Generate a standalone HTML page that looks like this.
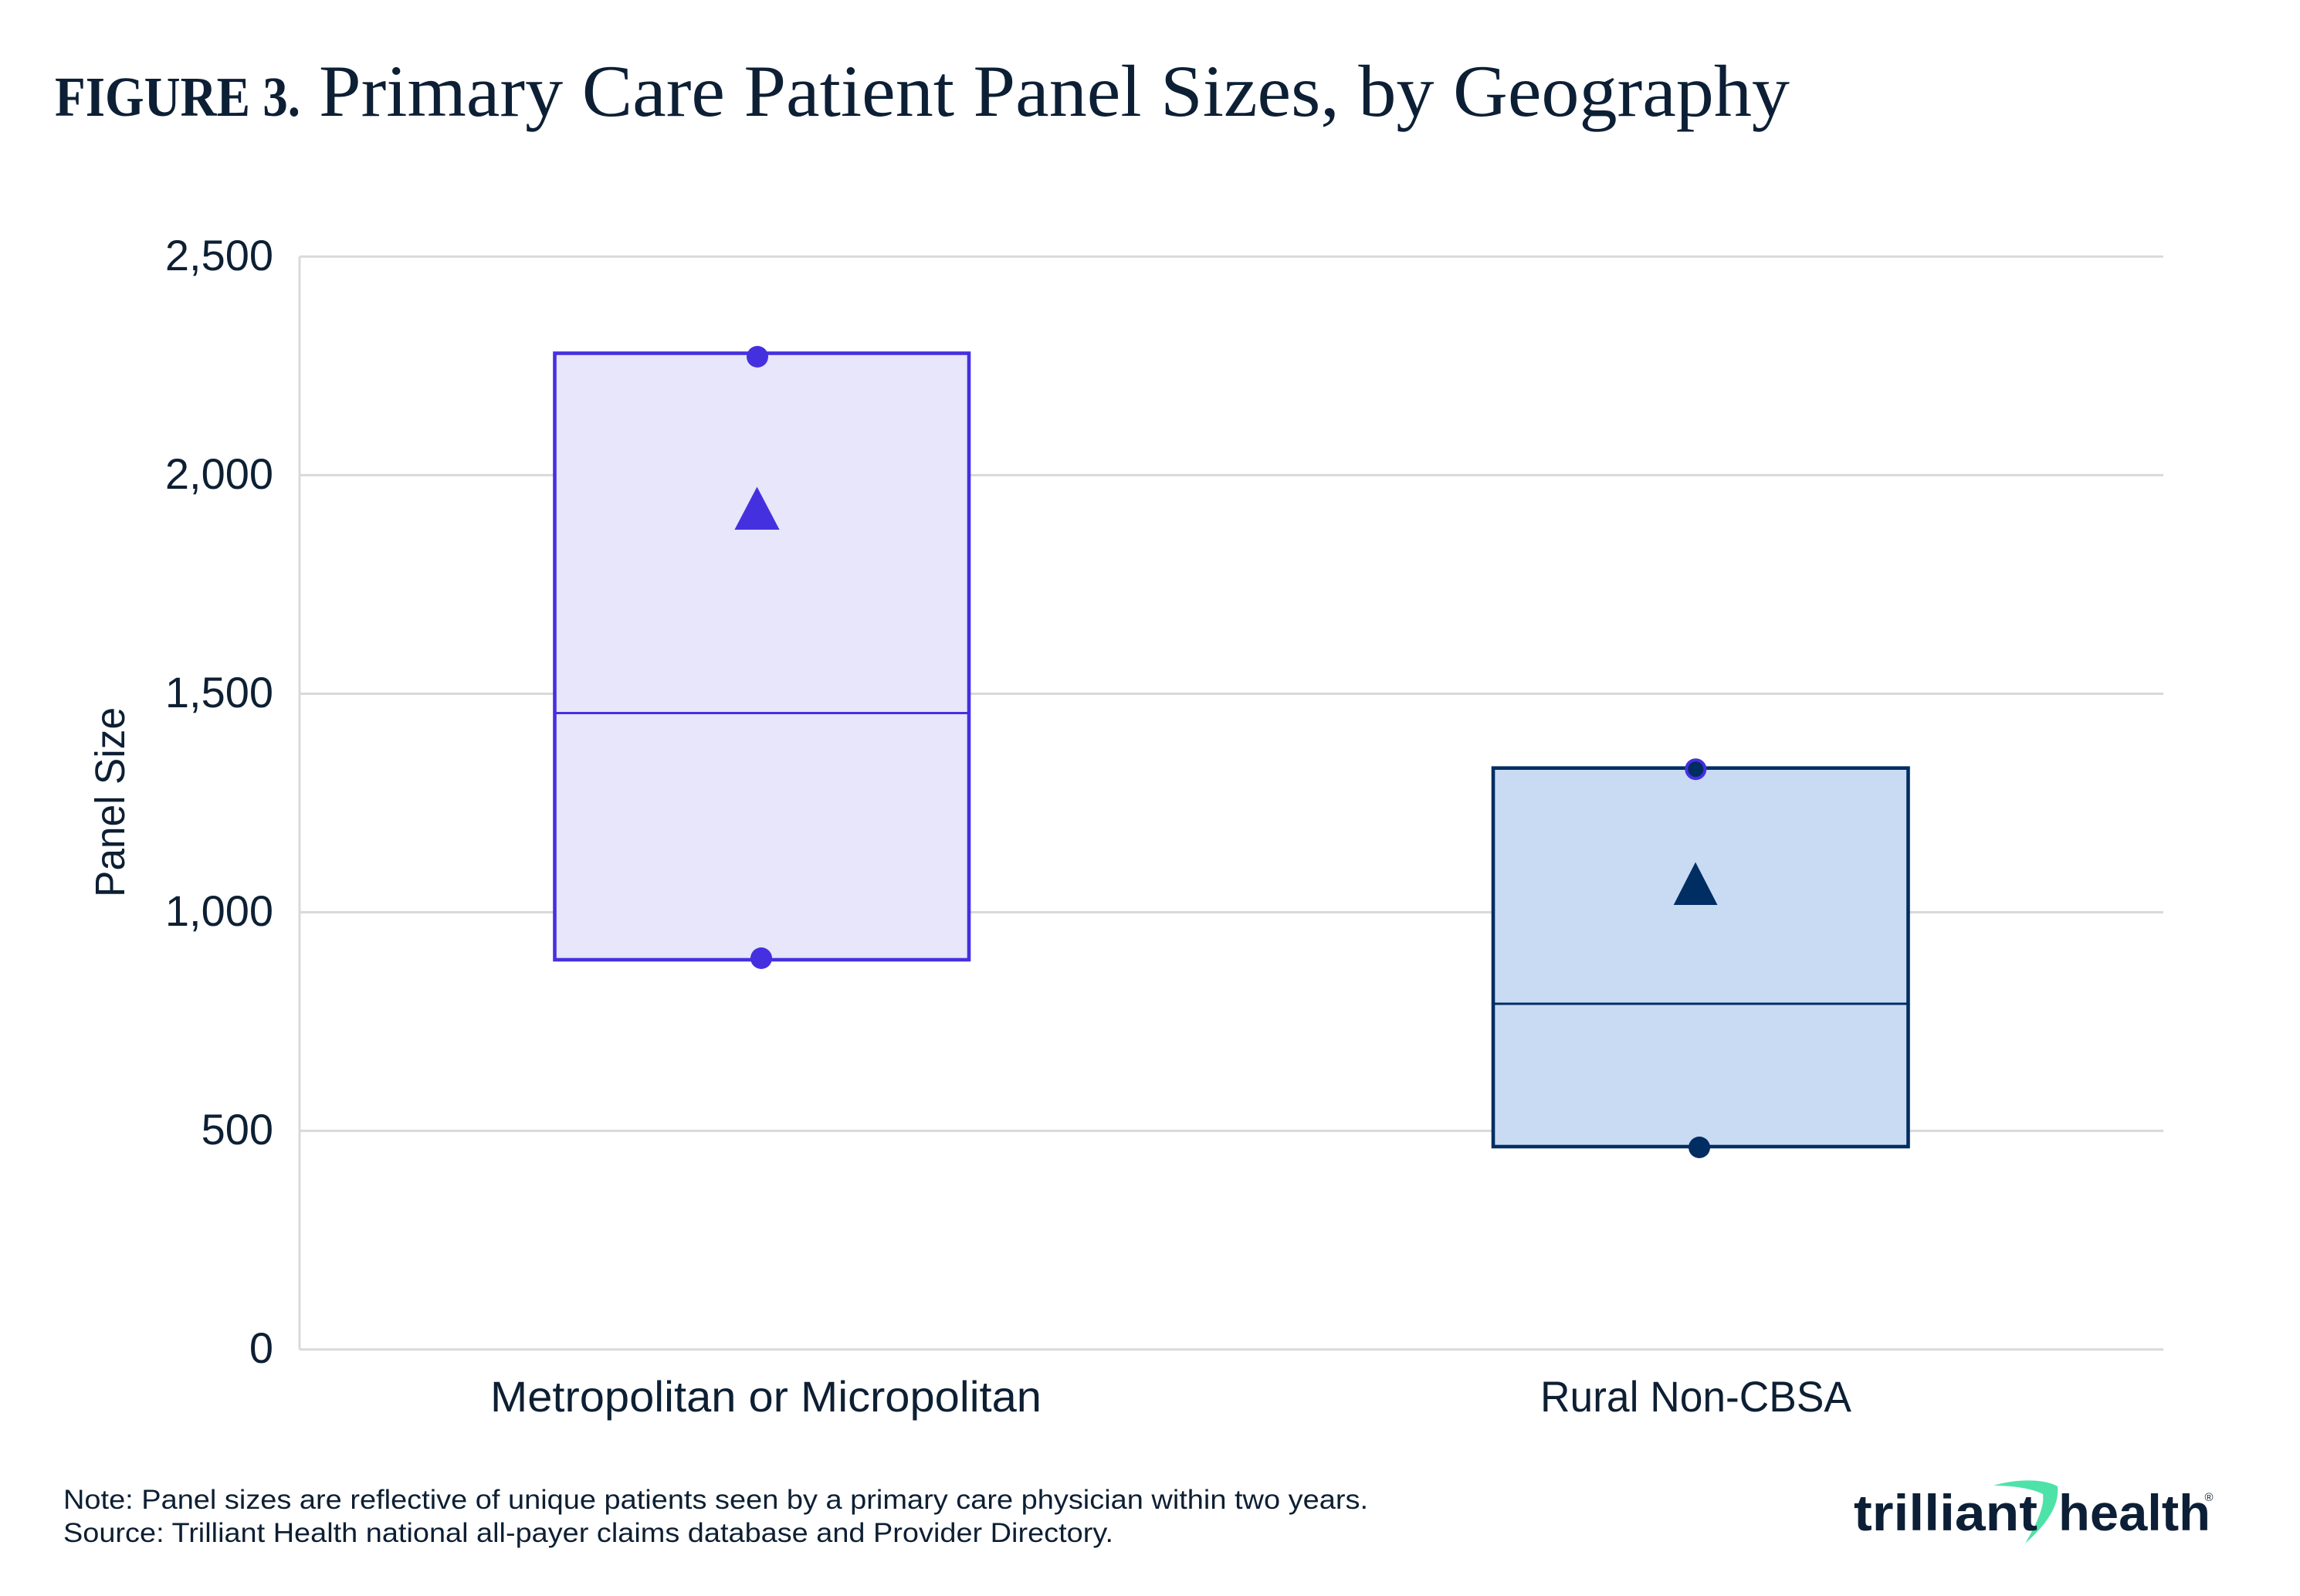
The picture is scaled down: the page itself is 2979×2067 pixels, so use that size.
<!DOCTYPE html>
<html>
<head>
<meta charset="utf-8">
<style>
  html, body { margin: 0; padding: 0; background: #ffffff; }
  svg { display: block; }
</style>
</head>
<body>
<svg width="2979" height="2067" viewBox="0 0 2979 2067" xmlns="http://www.w3.org/2000/svg">
  <rect x="0" y="0" width="2979" height="2067" fill="#ffffff"/>

  <!-- Title -->
  <text x="71" y="150" font-family="Liberation Serif, serif" font-weight="bold" font-size="73" fill="#0c1f35" textLength="318" lengthAdjust="spacingAndGlyphs">FIGURE 3.</text>
  <text x="413" y="150" font-family="Liberation Serif, serif" font-size="95" fill="#0c1f35" textLength="1905" lengthAdjust="spacingAndGlyphs">Primary Care Patient Panel Sizes, by Geography</text>

  <!-- Gridlines -->
  <g stroke="#d9d9d9" stroke-width="3" fill="none">
    <line x1="388" y1="332.3" x2="2802" y2="332.3"/>
    <line x1="388" y1="615.4" x2="2802" y2="615.4"/>
    <line x1="388" y1="898.5" x2="2802" y2="898.5"/>
    <line x1="388" y1="1181.5" x2="2802" y2="1181.5"/>
    <line x1="388" y1="1464.6" x2="2802" y2="1464.6"/>
    <line x1="388" y1="1747.7" x2="2802" y2="1747.7"/>
    <line x1="388" y1="332.3" x2="388" y2="1747.7"/>
  </g>

  <!-- Y tick labels -->
  <g font-family="Liberation Sans, sans-serif" font-size="56" fill="#0d1f33" text-anchor="end">
    <text x="354" y="350">2,500</text>
    <text x="354" y="633">2,000</text>
    <text x="354" y="916">1,500</text>
    <text x="354" y="1199">1,000</text>
    <text x="354" y="1482">500</text>
    <text x="354" y="1765">0</text>
  </g>

  <!-- Y axis label -->
  <text transform="translate(161,1039) rotate(-90)" text-anchor="middle" font-family="Liberation Sans, sans-serif" font-size="54" fill="#0d1f33" textLength="246" lengthAdjust="spacingAndGlyphs">Panel Size</text>

  <!-- Box 1: Metropolitan or Micropolitan -->
  <rect x="718.5" y="457.5" width="536.5" height="785.5" fill="#e7e6fa" stroke="#4530e0" stroke-width="4.6"/>
  <line x1="720.5" y1="923.5" x2="1253" y2="923.5" stroke="#4530e0" stroke-width="3"/>
  <circle cx="981" cy="462" r="14" fill="#4530e0"/>
  <circle cx="986" cy="1241" r="14" fill="#4530e0"/>
  <polygon points="980.5,630.5 1009.6,686 951.4,686" fill="#4530e0"/>

  <!-- Box 2: Rural Non-CBSA -->
  <rect x="1934" y="994.7" width="537.5" height="490.3" fill="#c9daf3" stroke="#002d62" stroke-width="4.6"/>
  <line x1="1936" y1="1300" x2="2469.5" y2="1300" stroke="#002d62" stroke-width="3"/>
  <circle cx="2196.3" cy="996.2" r="12" fill="#002d62" stroke="#4530e0" stroke-width="4"/>
  <circle cx="2201" cy="1486" r="14" fill="#002d62"/>
  <polygon points="2196,1116.6 2224.5,1172 2167.7,1172" fill="#002d62"/>

  <!-- X labels -->
  <g font-family="Liberation Sans, sans-serif" font-size="56" fill="#0d1f33">
    <text x="635" y="1828" textLength="714" lengthAdjust="spacingAndGlyphs">Metropolitan or Micropolitan</text>
    <text x="1995" y="1828" textLength="403" lengthAdjust="spacingAndGlyphs">Rural Non-CBSA</text>
  </g>

  <!-- Notes -->
  <g font-family="Liberation Sans, sans-serif" font-size="35" fill="#0d1f33">
    <text x="82" y="1954" textLength="1690" lengthAdjust="spacingAndGlyphs">Note: Panel sizes are reflective of unique patients seen by a primary care physician within two years.</text>
    <text x="82" y="1997" textLength="1360" lengthAdjust="spacingAndGlyphs">Source: Trilliant Health national all-payer claims database and Provider Directory.</text>
  </g>

  <!-- Logo -->
  <path d="M 2582 1924 C 2615 1914, 2650 1916, 2665 1925 C 2668 1950, 2650 1975, 2623 1999 C 2640 1970, 2648 1950, 2646 1935 C 2630 1927, 2605 1924, 2582 1924 Z" fill="#4ee2a9"/>
  <g font-family="Liberation Sans, sans-serif" font-weight="bold" font-size="66" fill="#0c1f36">
    <text x="2401" y="1982" textLength="238" lengthAdjust="spacingAndGlyphs">trilliant</text>
    <text x="2666" y="1982" textLength="197" lengthAdjust="spacingAndGlyphs">health</text>
  </g>
  <text x="2861" y="1944" text-anchor="middle" font-family="Liberation Sans, sans-serif" font-size="15" fill="#0c1f36">®</text>
</svg>
</body>
</html>
